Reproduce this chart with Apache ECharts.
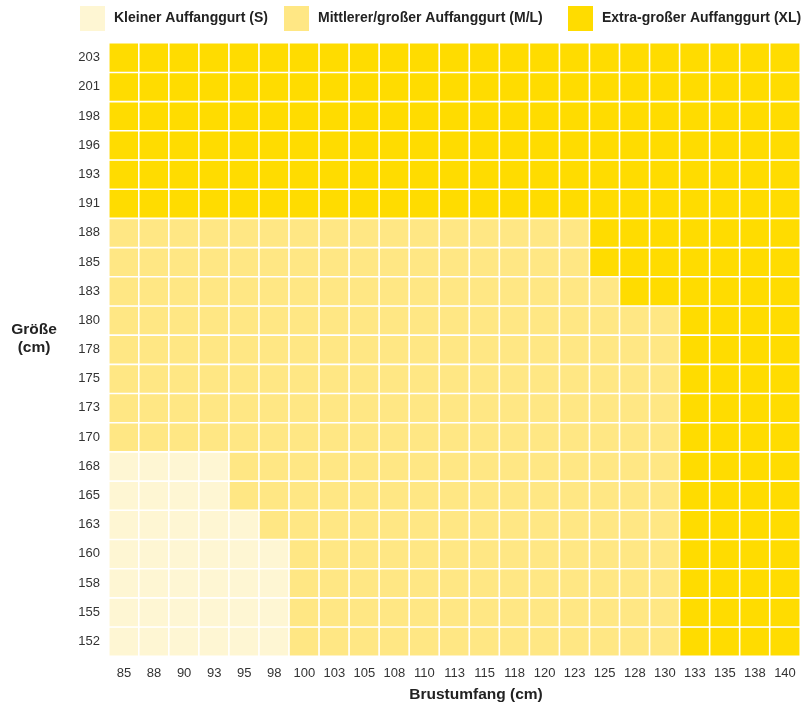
<!DOCTYPE html>
<html><head><meta charset="utf-8">
<script src="https://cdn.jsdelivr.net/npm/echarts@6/dist/echarts.min.js"></script>
<style>html,body{margin:0;padding:0;background:#fff}#c{width:811px;height:707px}</style>
</head><body><div id="c"></div>
<script>
const chest = ['85','88','90','93','95','98','100','103','105','108','110','113','115','118','120','123','125','128','130','133','135','138','140'];
const heights = ['152','155','158','160','163','165','168','170','173','175','178','180','183','185','188','191','193','196','198','201','203'];
const sizeNames = ['Kleiner Auffanggurt (S)','Mittlerer/großer Auffanggurt (M/L)','Extra-großer Auffanggurt (XL)'];
const sizeColors = ['#FEF6D3','#FFE784','#FFDC00'];
// rows from 152 (bottom) to 203 (top); S = small, M = medium/large, X = extra large
const sizeRows = [
  'SSSSSSMMMMMMMMMMMMMXXXX', // 152
  'SSSSSSMMMMMMMMMMMMMXXXX', // 155
  'SSSSSSMMMMMMMMMMMMMXXXX', // 158
  'SSSSSSMMMMMMMMMMMMMXXXX', // 160
  'SSSSSMMMMMMMMMMMMMMXXXX', // 163
  'SSSSMMMMMMMMMMMMMMMXXXX', // 165
  'SSSSMMMMMMMMMMMMMMMXXXX', // 168
  'MMMMMMMMMMMMMMMMMMMXXXX', // 170
  'MMMMMMMMMMMMMMMMMMMXXXX', // 173
  'MMMMMMMMMMMMMMMMMMMXXXX', // 175
  'MMMMMMMMMMMMMMMMMMMXXXX', // 178
  'MMMMMMMMMMMMMMMMMMMXXXX', // 180
  'MMMMMMMMMMMMMMMMMXXXXXX', // 183
  'MMMMMMMMMMMMMMMMXXXXXXX', // 185
  'MMMMMMMMMMMMMMMMXXXXXXX', // 188
  'XXXXXXXXXXXXXXXXXXXXXXX', // 191
  'XXXXXXXXXXXXXXXXXXXXXXX', // 193
  'XXXXXXXXXXXXXXXXXXXXXXX', // 196
  'XXXXXXXXXXXXXXXXXXXXXXX', // 198
  'XXXXXXXXXXXXXXXXXXXXXXX', // 201
  'XXXXXXXXXXXXXXXXXXXXXXX'  // 203
];
const codes = ['S','M','X'];
const seriesData = [[],[],[]];
sizeRows.forEach((row, yi) => {
  for (let xi = 0; xi < row.length; xi++) {
    const k = codes.indexOf(row[xi]);
    seriesData[k].push([xi, yi, k]);
  }
});
const font = 'Liberation Sans, Arial, sans-serif';
const legendLefts = [78, 282, 566];
const chart = echarts.init(document.getElementById('c'), null, {renderer:'canvas'});
chart.setOption({
  backgroundColor: '#fff',
  animation: false,
  legend: sizeNames.map((name, k) => ({
    left: legendLefts[k], top: 4, padding: 0,
    itemWidth: 27, itemHeight: 27,
    icon: 'rect', selectedMode: false,
    textStyle: {fontFamily: font, fontSize: 14, fontWeight: 'bold', color: '#222', padding: [0, 0, 0, 3]},
    data: [name]
  })),
  grid: {left: 109, right: 11, top: 43, bottom: 51},
  xAxis: {
    type: 'category', data: chest,
    axisLine: {show: false}, axisTick: {show: false}, splitLine: {show: false},
    axisLabel: {margin: 11, fontFamily: font, fontSize: 13, color: '#333'}
  },
  yAxis: {
    type: 'category', data: heights,
    axisLine: {show: false}, axisTick: {show: false}, splitLine: {show: false},
    axisLabel: {margin: 9, fontFamily: font, fontSize: 13, color: '#333'}
  },
  graphic: [
    {type: 'text', style: {text: 'Brustumfang (cm)', x: 476, y: 695, align: 'center', verticalAlign: 'middle', font: 'bold 15.5px ' + font, fill: '#222'}},
    {type: 'text', style: {text: 'Größe\n(cm)', x: 34, y: 339, align: 'center', verticalAlign: 'middle', font: 'bold 15.5px ' + font, fill: '#222', lineHeight: 18}}
  ],
  series: sizeNames.map((name, k) => ({
    name: name,
    type: 'heatmap',
    data: seriesData[k],
    itemStyle: {color: sizeColors[k], borderColor: '#fff', borderWidth: 1.6}
  }))
});
</script></body></html>
